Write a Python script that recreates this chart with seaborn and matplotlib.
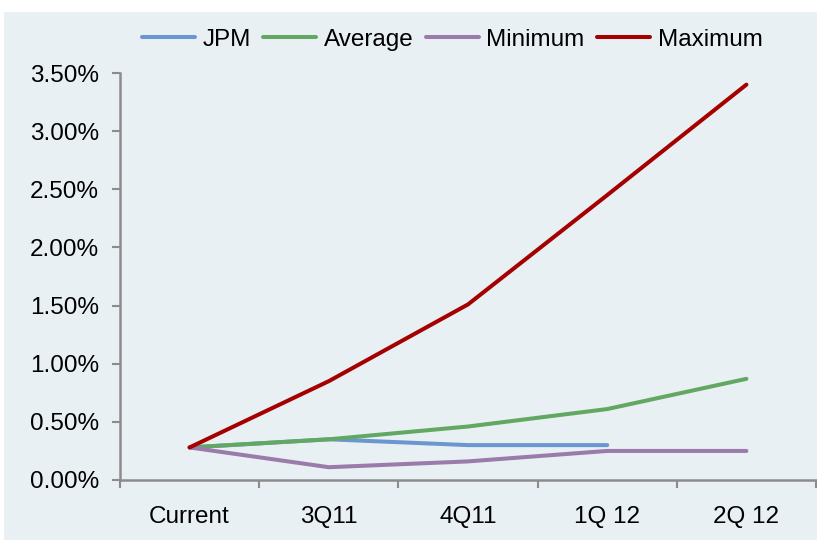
import matplotlib
matplotlib.use("Agg")
import matplotlib.pyplot as plt
from matplotlib.patches import Rectangle
from matplotlib.ticker import FixedLocator, FuncFormatter
import numpy as np
import pandas as pd
import seaborn as sns

quarters = ["Current", "3Q11", "4Q11", "1Q 12", "2Q 12"]
jpm = [0.28, 0.35, 0.30, 0.30, None]
average = [0.28, 0.35, 0.46, 0.61, 0.87]
minimum = [0.28, 0.11, 0.16, 0.25, 0.25]
maximum = [0.28, 0.85, 1.51, 2.45, 3.40]
y_ticks = [0.0, 0.5, 1.0, 1.5, 2.0, 2.5, 3.0, 3.5]

series = {"JPM": jpm, "Average": average, "Minimum": minimum, "Maximum": maximum}
palette = {"JPM": "#6B96D0", "Average": "#62A862", "Minimum": "#9A7BAA", "Maximum": "#A50000"}

rows = []
for name, vals in series.items():
    for i, v in enumerate(vals):
        if v is not None:
            rows.append({"pos": i, "value": v, "series": name})
df = pd.DataFrame(rows)

sns.set_theme(style="white")
plt.rcParams["font.family"] = ["Liberation Sans", "DejaVu Sans"]
plt.rcParams["text.color"] = "black"

bg = "#E9F0F4"
axis_grey = "#8C8C8C"
fig = plt.figure(figsize=(8.17, 5.40), dpi=100, facecolor="white")
fig.patches.append(Rectangle((4 / 817, 0), 1, 1 - 12 / 540, transform=fig.transFigure,
                             facecolor=bg, edgecolor="none", zorder=-10))
ax = fig.add_axes([120 / 817, 60 / 540, 696 / 817, 407 / 540])
ax.set_facecolor(bg)

sns.lineplot(data=df, x="pos", y="value", hue="series", palette=palette,
             hue_order=list(series.keys()), linewidth=2.9, ax=ax, legend=True)

ax.set_xlim(-0.5, 4.5)
ax.set_ylim(0, 3.5)
ax.set_xlabel("")
ax.set_ylabel("")

# category labels centred, tick marks on the category boundaries
ax.xaxis.set_major_locator(FixedLocator(range(len(quarters))))
ax.set_xticklabels(quarters)
ax.xaxis.set_minor_locator(FixedLocator(np.arange(-0.5, len(quarters), 1.0)))
ax.tick_params(axis="x", which="both", bottom=True)
ax.tick_params(axis="x", which="major", length=0, pad=19, labelsize=17.5, labelcolor="black")
ax.tick_params(axis="x", which="minor", length=6, width=1.5, color=axis_grey, direction="out")

ax.yaxis.set_major_locator(FixedLocator(y_ticks))
ax.yaxis.set_major_formatter(FuncFormatter(lambda v, _: f"{v:.2f}%"))
ax.tick_params(axis="y", left=True, length=6, width=1.5, color=axis_grey, direction="out",
               pad=9, labelsize=17.5, labelcolor="black")

for side in ["top", "right"]:
    ax.spines[side].set_visible(False)
for side in ["left", "bottom"]:
    ax.spines[side].set_color(axis_grey)
    ax.spines[side].set_linewidth(1.8)

sns.move_legend(ax, "center", bbox_to_anchor=(452 / 817, 1 - 40 / 540),
                bbox_transform=fig.transFigure, ncol=4, frameon=False, title=None,
                fontsize=17.5, handlelength=2.2, columnspacing=0.5, handletextpad=0.3)
for txt in ax.get_legend().get_texts():
    txt.set_color("black")

fig.savefig("out.png", dpi=100, facecolor="white")
